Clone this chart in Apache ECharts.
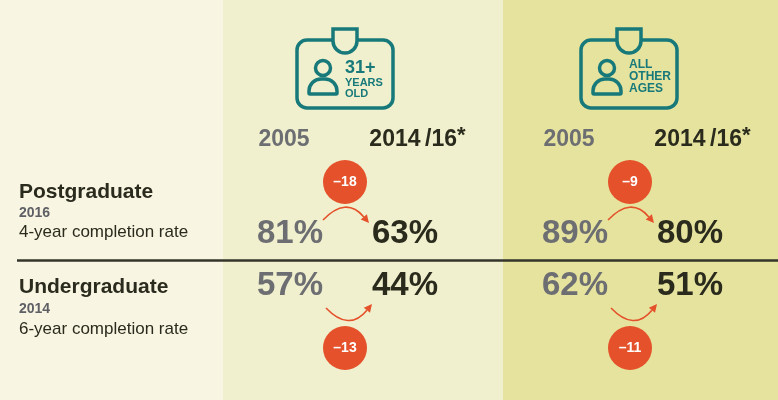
<!DOCTYPE html>
<html>
<head>
<meta charset="utf-8">
<script src="https://cdn.jsdelivr.net/npm/echarts@6/dist/echarts.min.js"></script>
<style>
  html, body { margin: 0; padding: 0; }
  #main { width: 778px; height: 400px; }
</style>
</head>
<body>
<div id="main"></div>
<script>
// data
var groups = [['31+', 'YEARS', 'OLD'], ['ALL', 'OTHER', 'AGES']];
var periods = ['2005', '2014/16'];
var levels = ['Postgraduate', 'Undergraduate'];
var levelYears = ['2016', '2014'];
var levelNotes = ['4-year completion rate', '6-year completion rate'];
var older2005 = [81, 57];
var older2014 = [63, 44];
var other2005 = [89, 62];
var other2014 = [80, 51];
var olderChange = [-18, -13];
var otherChange = [-9, -11];

var FONT = '"Liberation Sans", Arial, Helvetica, sans-serif';
var TEAL = '#17797a';
var ORANGE = '#e4512a';
var GREY = '#6d6e72';
var DARK = '#2a2b1d';
var BG_LEFT = '#f9f5e3', BG_MID = '#f1f0ce', BG_RIGHT = '#e6e39e';

var myChart = echarts.init(document.getElementById('main'));

// badge icon on top of each column group
function badge(cx, lines, sizes, ys, bg) {
    var st = { fill: 'none', stroke: TEAL, lineWidth: 3.5 };
    var c = [];
    c.push({ type: 'rect', shape: { x: cx - 48, y: 40, width: 96, height: 68, r: 10 }, style: st });
    // clip tab: fill first, then outline
    c.push({ type: 'rect', z: 1, shape: { x: cx - 12, y: 29, width: 24, height: 12 }, style: { fill: bg } });
    c.push({ type: 'circle', z: 1, shape: { cx: cx, cy: 41, r: 12 }, style: { fill: bg } });
    c.push({ type: 'arc', z: 2, shape: { cx: cx, cy: 41, r: 12, startAngle: 0, endAngle: Math.PI, clockwise: true }, style: st });
    c.push({ type: 'polyline', z: 2, shape: { points: [[cx - 12, 41], [cx - 12, 29], [cx + 12, 29], [cx + 12, 41]] }, style: st });
    // person
    c.push({ type: 'circle', shape: { cx: cx - 22, cy: 68, r: 7.5 }, style: st });
    c.push({ type: 'rect', shape: { x: cx - 36, y: 79, width: 28, height: 15, r: [12, 12, 1, 1] }, style: st });
    lines.forEach(function (t, i) {
        c.push({ type: 'text', x: cx, y: ys[i],
            style: { text: t, fill: TEAL, font: 'bold ' + sizes[i] + 'px ' + FONT,
                textAlign: 'left', textVerticalAlign: 'middle', align: 'left', verticalAlign: 'middle' } });
    });
    return c;
}

var graphics = [
    { type: 'rect', z: -10, shape: { x: 0, y: 0, width: 223, height: 400 }, style: { fill: BG_LEFT } },
    { type: 'rect', z: -10, shape: { x: 223, y: 0, width: 280, height: 400 }, style: { fill: BG_MID } },
    { type: 'rect', z: -10, shape: { x: 503, y: 0, width: 275, height: 400 }, style: { fill: BG_RIGHT } },
    { type: 'line', shape: { x1: 17, y1: 260.5, x2: 778, y2: 260.5 }, style: { stroke: '#33352a', lineWidth: 2.5 } }
];
graphics = graphics.concat(badge(345, groups[0], [18, 11, 11], [68, 82.5, 93.5], BG_MID));
graphics = graphics.concat(badge(629, groups[1], [12, 12, 12], [65, 77, 89], BG_RIGHT));

// row labels on the left
var titleY = [192, 287], yearY = [213, 309], noteY = [232, 329];
levels.forEach(function (l, i) {
    graphics.push({ type: 'text', x: 19, y: titleY[i], style: { text: l, fill: DARK, font: 'bold 21px ' + FONT,
        textVerticalAlign: 'middle', verticalAlign: 'middle' } });
    graphics.push({ type: 'text', x: 19, y: yearY[i], style: { text: levelYears[i], fill: '#5f6065', font: 'bold 14px ' + FONT,
        textVerticalAlign: 'middle', verticalAlign: 'middle' } });
    graphics.push({ type: 'text', x: 19, y: noteY[i], style: { text: levelNotes[i], fill: DARK, font: '17px ' + FONT,
        textVerticalAlign: 'middle', verticalAlign: 'middle' } });
});

function xAxisFor(idx) {
    return {
        type: 'category', gridIndex: idx, data: periods, position: 'top',
        axisLine: { show: false }, axisTick: { show: false }, splitLine: { show: false },
        axisLabel: {
            margin: 68, verticalAlign: 'middle', interval: 0,
            formatter: function (v) {
                return v === '2005' ? '{g|2005}' : '{d|2014\u2009/16}{s|*}';
            },
            rich: {
                g: { fontFamily: FONT, fontWeight: 'bold', fontSize: 23, color: GREY, padding: [0, 12, 0, 0] },
                d: { fontFamily: FONT, fontWeight: 'bold', fontSize: 23, color: DARK, padding: [0, 0, 0, 25] },
                s: { fontFamily: FONT, fontWeight: 'bold', fontSize: 22, color: DARK, padding: [0, 0, 8, 0] }
            }
        }
    };
}
function yAxisFor(idx) {
    return {
        type: 'category', gridIndex: idx, data: levels, inverse: true,
        axisLine: { show: false }, axisTick: { show: false }, axisLabel: { show: false }, splitLine: { show: false }
    };
}

function valueSeries(idx, period, vals, color) {
    return {
        type: 'scatter', xAxisIndex: idx, yAxisIndex: idx, symbolSize: 1,
        itemStyle: { color: 'rgba(0,0,0,0)', opacity: 1 },
        emphasis: { disabled: true },
        data: vals.map(function (v, r) { return [period, r, v]; }),
        label: {
            show: true, position: 'inside', color: color, opacity: 1,
            fontFamily: FONT, fontWeight: 'bold', fontSize: 33,
            formatter: function (p) { return p.value[2] + '%'; }
        }
    };
}

function changeSeries(idx, changes) {
    return {
        type: 'custom', xAxisIndex: idx, yAxisIndex: idx, z: 5,
        encode: { x: 0, y: 1 },
        data: changes.map(function (c, r) { return [0, r, c]; }),
        renderItem: function (params, api) {
            var row = api.value(1), ch = api.value(2);
            var p0 = api.coord([0, row]), p1 = api.coord([1, row]);
            var up = row === 0;
            var sx, sy, ex, ey, cpx, cpy, by;
            if (up) {
                sx = p0[0] + 33; sy = p0[1] - 14; ex = p1[0] - 36; ey = p1[1] - 11;
                cpy = p0[1] - 38; by = p0[1] - 52;
            } else {
                sx = p0[0] + 36; sy = p0[1] + 22; ex = p1[0] - 33; ey = p1[1] + 18;
                cpy = p0[1] + 46; by = p0[1] + 62;
            }
            cpx = (sx + ex) / 2;
            var dx = ex - cpx, dy = ey - cpy, len = Math.sqrt(dx * dx + dy * dy);
            dx /= len; dy /= len;
            var ah = 8, aw = 4;
            var bx = ex - dx * ah, byy = ey - dy * ah;
            var mx = (p0[0] + p1[0]) / 2 - 2.5;
            return {
                type: 'group',
                children: [
                    { type: 'bezierCurve', shape: { x1: sx, y1: sy, x2: bx, y2: byy, cpx1: cpx, cpy1: cpy },
                      style: { fill: 'none', stroke: ORANGE, lineWidth: 1.6 } },
                    { type: 'polygon', shape: { points: [[ex, ey], [bx - dy * aw, byy + dx * aw], [bx + dy * aw, byy - dx * aw]] },
                      style: { fill: ORANGE } },
                    { type: 'circle', shape: { cx: mx, cy: by, r: 22 }, style: { fill: ORANGE } },
                    { type: 'text', x: mx, y: by,
                      style: { text: '\u2013' + Math.abs(ch), fill: '#fff', font: 'bold 14px ' + FONT,
                        align: 'center', verticalAlign: 'middle', textAlign: 'center', textVerticalAlign: 'middle' } }
                ]
            };
        }
    };
}

var option = {
    backgroundColor: BG_LEFT,
    animation: false,
    grid: [
        { left: 232.5, top: 208, width: 230, height: 104 },
        { left: 517.5, top: 208, width: 230, height: 104 }
    ],
    xAxis: [xAxisFor(0), xAxisFor(1)],
    yAxis: [yAxisFor(0), yAxisFor(1)],
    graphic: graphics,
    series: [
        valueSeries(0, 0, older2005, GREY),
        valueSeries(0, 1, older2014, DARK),
        valueSeries(1, 0, other2005, GREY),
        valueSeries(1, 1, other2014, DARK),
        changeSeries(0, olderChange),
        changeSeries(1, otherChange)
    ]
};

myChart.setOption(option);
</script>
</body>
</html>
